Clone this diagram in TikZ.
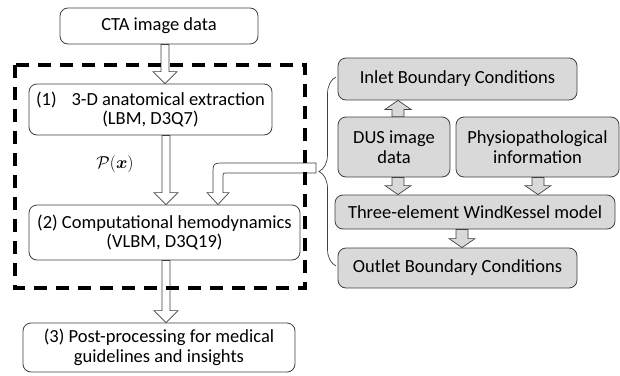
\documentclass[tikz,border=0pt]{standalone}
\usepackage{amsmath}
\usepackage{fontspec}
\setmainfont{Carlito}
\usetikzlibrary{calc,decorations.pathreplacing}
\definecolor{boxgray}{HTML}{D9D9D9}
\definecolor{edgegray}{HTML}{404040}
\tikzset{
  box/.style={draw=edgegray, line width=.8pt, rounded corners=8pt, align=center,
    font=\fontsize{18.5}{19.5}\selectfont, inner sep=1pt},
  graybox/.style={box, fill=boxgray},
  whitearrow/.style={draw=edgegray, line width=.7pt, fill=white,
    /utils/exec={\def\shw{4pt}\def\hdw{12pt}\def\hdl{12pt}}},
  grayarrow/.style={draw=edgegray, line width=.7pt, fill=boxgray,
    /utils/exec={\def\shw{6pt}\def\hdw{13pt}\def\hdl{9pt}}},
  frame/.style={line width=3.5pt, dash pattern=on 13pt off 9pt},
}
% vertical block arrow at x=#2 from #3 to #4
\newcommand\blockarrow[4][whitearrow]{%
  \draw[#1] let \p1=(#3), \p2=(#4), \n1={ifthenelse(\y2>\y1,-1,1)} in
    (#2pt-\shw,\y1) -- (#2pt-\shw,\y2+\n1*\hdl) -- (#2pt-\hdw,\y2+\n1*\hdl)
    -- (#2pt,\y2) -- (#2pt+\hdw,\y2+\n1*\hdl) -- (#2pt+\shw,\y2+\n1*\hdl)
    -- (#2pt+\shw,\y1) -- cycle;}
\begin{document}
\begin{tikzpicture}[x=1pt,y=-1pt]
\useasboundingbox (0,0) rectangle (620,375);

\node[box, minimum width=198pt, minimum height=36pt] (cta) at (159,26) {CTA image data};
\node[box, minimum width=243pt, minimum height=51pt] (extr) at (150.5,109.5)
  {(1)\hspace{0.8em}3-D anatomical extraction\\(LBM, D3Q7)};
\node[box, minimum width=271pt, minimum height=55pt] (hemo) at (164.5,232.5)
  {(2) Computational hemodynamics\\(VLBM, D3Q19)};
\node[box, minimum width=272pt, minimum height=49pt] (post) at (159,347.5)
  {(3) Post-processing for medical\\guidelines and insights};
\node[font=\fontsize{18}{20}\selectfont] (px) at (115,164) {$\mathcal{P}(\boldsymbol{x})$};

\node[graybox, minimum width=239pt, minimum height=42pt] (inlet) at (457.5,79) {Inlet Boundary Conditions};
\node[graybox, minimum width=112pt, minimum height=60pt] (dus) at (394,147) {DUS image\\data};
\node[graybox, minimum width=163pt, minimum height=60pt] (physio) at (537.5,147) {Physiopathological\\information};
\node[graybox, minimum width=280pt, minimum height=34pt] (wk) at (475,212) {Three-element WindKessel model};
\node[graybox, minimum width=239pt, minimum height=40pt] (outlet) at (457.5,268) {Outlet Boundary Conditions};

\blockarrow{165}{cta.south}{extr.north}
\blockarrow{166}{extr.south}{hemo.north}
\blockarrow{166}{hemo.south}{post.north}
\blockarrow[grayarrow]{398}{dus.north}{inlet.south}
\blockarrow[grayarrow]{398}{dus.south}{wk.north}
\blockarrow[grayarrow]{538}{physio.south}{wk.north}
\blockarrow[grayarrow]{462}{wk.south}{outlet.north}

\draw[decorate, decoration={brace, amplitude=17pt}, line width=.7pt, edgegray]
  (336,266) -- (336,77);
\coordinate (bt) at (316,168);
\draw[whitearrow] let \p1=(bt), \p2=(hemo.north) in
  (\x1,\y1+5pt) -- (225pt,\y1+5pt) .. controls (213pt,\y1+5pt) .. (213pt,\y1-7pt)
  -- (213pt,\y2+12pt) -- (207pt,\y2+12pt) -- (218pt,\y2) -- (229pt,\y2+12pt)
  -- (223pt,\y2+12pt) -- (223pt,\y1-8pt) .. controls (223pt,\y1-5pt) .. (226pt,\y1-5pt)
  -- (\x1,\y1-5pt) -- cycle;

\draw[frame] (15,65) rectangle (305,288);
\end{tikzpicture}
\end{document}
